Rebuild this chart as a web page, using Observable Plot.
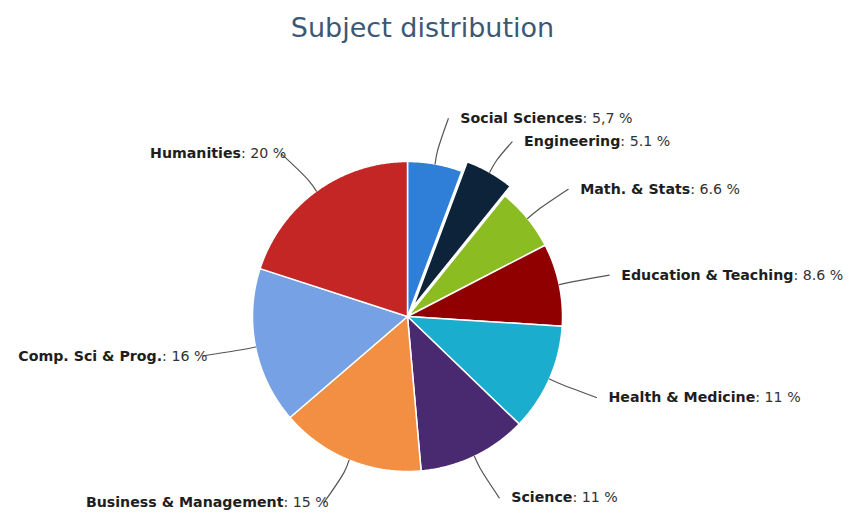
<!DOCTYPE html>
<html><head><meta charset="utf-8">
<script src="https://cdn.jsdelivr.net/npm/d3@7"></script>
<script src="https://cdn.jsdelivr.net/npm/@observablehq/plot@0.6"></script>
<style>
body{margin:0;background:#fff;font-family:"DejaVu Sans",sans-serif;}
#title{height:56px;box-sizing:border-box;padding-top:14px;width:845px;text-align:center;font-size:27px;line-height:27px;color:#3b5875;}
#chart svg{display:block;}
</style></head><body>
<div id="title">Subject distribution</div>
<div id="chart"></div>
<script>
// ---- data (clockwise from 12 o'clock) ----
const subjects = ["Social Sciences","Engineering","Math. & Stats","Education & Teaching","Health & Medicine","Science","Business & Management","Comp. Sci & Prog.","Humanities"];
const shares = [5.7, 5.1, 6.6, 8.6, 11.2, 11.4, 15.1, 16.3, 20.0];
const shareLabels = ["5,7 %","5.1 %","6.6 %","8.6 %","11 %","11 %","15 %","16 %","20 %"];
const colors = ["#2f7ed8","#0d233a","#8bbc21","#910000","#1aadce","#492970","#f28f43","#77a1e5","#c42525"];
const slicedSubjects = ["Engineering"];

// ---- layout ----
const W = 855, H = 459, cx = 407, cy = 260, r = 155, labelR = 201, breakR = 168, slicedOffset = 11;
const FONT = '"DejaVu Sans", sans-serif', FS = 14.2;

const canvas = document.createElement("canvas").getContext("2d");
function textW(t, weight) { canvas.font = `${weight} ${FS}px "DejaVu Sans"`; return canvas.measureText(t).width; }

const arcs = d3.pie().sort(null).value((d, i) => shares[i])(subjects);

const slicePts = [], connectorPts = [], names = [], values = [];
arcs.forEach((a, i) => {
  const name = subjects[i];
  const mid = (a.startAngle + a.endAngle) / 2;
  const sliced = slicedSubjects.includes(name);
  const ox = sliced ? Math.sin(mid) * slicedOffset : 0;
  const oy = sliced ? -Math.cos(mid) * slicedOffset : 0;
  // slice polygon
  slicePts.push({name, color: colors[i], x: cx + ox, y: cy + oy});
  const n = Math.max(2, Math.ceil((a.endAngle - a.startAngle) / (Math.PI / 360)));
  for (let k = 0; k <= n; k++) {
    const t = a.startAngle + (a.endAngle - a.startAngle) * k / n;
    slicePts.push({name, color: colors[i], x: cx + ox + Math.sin(t) * r, y: cy + oy - Math.cos(t) * r});
  }
  slicePts.push({name, color: colors[i], x: cx + ox, y: cy + oy});
  // label anchor
  const right = mid < Math.PI;
  const ay = cy - Math.cos(mid) * labelR;
  const dy = ay - cy;
  const ax = cx + (right ? 1 : -1) * Math.sqrt(Math.max(0, labelR * labelR - dy * dy));
  // connector
  connectorPts.push({name, x: ax + (right ? 5 : -8), y: ay});
  connectorPts.push({name, x: cx + ox + Math.sin(mid) * breakR, y: cy + oy - Math.cos(mid) * breakR});
  connectorPts.push({name, x: cx + ox + Math.sin(mid) * r, y: cy + oy - Math.cos(mid) * r});
  // label text
  const valText = ": " + shareLabels[i];
  const nw = textW(name, "bold"), vw = textW(valText, "normal");
  let nx;
  if (right) nx = ax + 17; else nx = ax - 3 - vw - nw;
  names.push({text: name, x: nx, y: ay});
  values.push({text: valText, x: nx + nw, y: ay});
});

const chart = Plot.plot({
  width: W, height: H, margin: 0,
  x: {domain: [0, W], range: [0, W], axis: null},
  y: {domain: [0, H], range: [0, H], axis: null},
  color: {type: "identity"},
  style: {fontFamily: FONT, background: "#fff"},
  marks: [
    Plot.line(slicePts, {x: "x", y: "y", z: "name", fill: "color", stroke: "#fff", strokeWidth: 1.5, strokeLinejoin: "round", curve: "linear"}),
    Plot.line(connectorPts, {x: "x", y: "y", z: "name", stroke: "#555", strokeWidth: 1.2, curve: "catmull-rom"}),
    Plot.text(names, {x: "x", y: "y", text: "text", textAnchor: "start", fontWeight: "bold", fontSize: FS, fontFamily: FONT, fill: "#1e1e1e"}),
    Plot.text(values, {x: "x", y: "y", text: "text", textAnchor: "start", fontSize: FS, fontFamily: FONT, fill: "#333"})
  ]
});
document.getElementById("chart").appendChild(chart);
</script>
</body></html>
